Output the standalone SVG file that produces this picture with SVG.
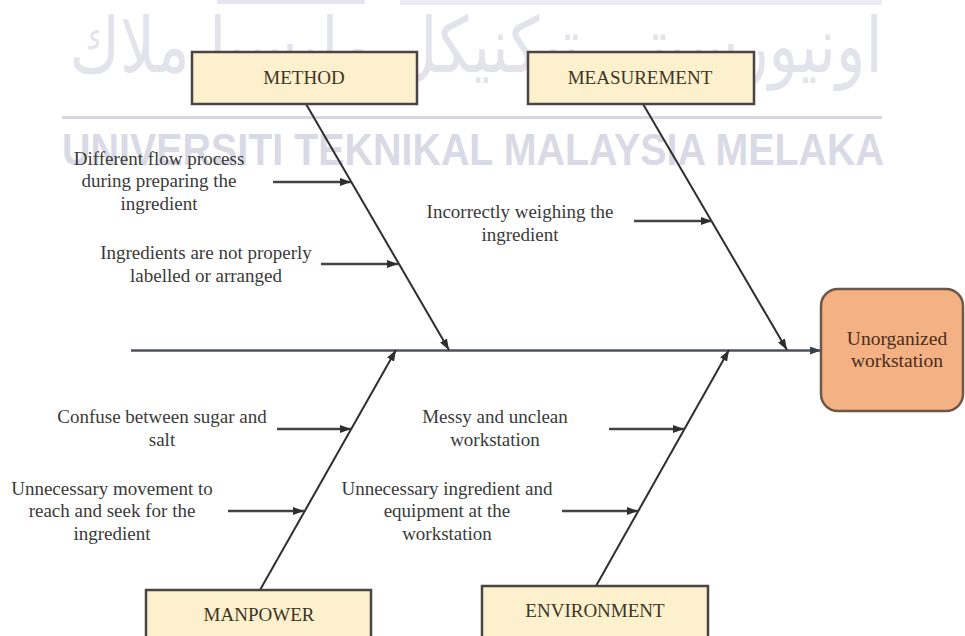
<svg xmlns="http://www.w3.org/2000/svg" width="965" height="636" viewBox="0 0 965 636">
  <defs>
    <marker id="head" markerUnits="userSpaceOnUse" markerWidth="11" markerHeight="8" refX="11" refY="4" orient="auto">
      <path d="M0,0 L11,4 L0,8 z" fill="#2e2e2e"/>
    </marker>
    <marker id="headMain" markerUnits="userSpaceOnUse" markerWidth="11" markerHeight="8" refX="11" refY="4" orient="auto">
      <path d="M0,0 L11,4 L0,8 z" fill="#34404c"/>
    </marker>
    <style>
      .cat rect { fill: #fdf0cd; stroke: #4a4444; stroke-width: 2.5; }
      .cat text { font-family: "Liberation Serif", "Times New Roman", serif; font-size: 19px; fill: #3d3526; text-anchor: middle; }
      .cause { font-family: "Liberation Serif", "Times New Roman", serif; font-size: 19px; fill: #3a3a3a; text-anchor: middle; }
      .bone { stroke: #2e2e2e; stroke-width: 2; fill: none; marker-end: url(#head); }
      .sub { stroke: #444; stroke-width: 2.5; fill: none; marker-end: url(#head); }
    </style>
  </defs>

  <rect width="965" height="636" fill="#ffffff"/>

  <!-- letterhead watermark -->
  <g id="watermark">
    <rect x="217" y="0" width="148" height="4" fill="#e6e6ee"/>
    <rect x="400" y="0" width="482" height="5" fill="#ececf1"/>
    <rect x="62" y="116" width="820" height="3" fill="#d6d7e0"/>
    <text transform="translate(476,72) scale(0.96,1.2)" font-family="DejaVu Sans, sans-serif" font-size="64" text-anchor="middle" direction="rtl" fill="#e2e3eb">اونيورسيتي تيكنيكل مليسيا ملاك</text>
    <text x="62" y="165" font-family="Liberation Sans, Arial, sans-serif" font-weight="bold" font-size="44" fill="#d9dae5" textLength="822" lengthAdjust="spacingAndGlyphs">UNIVERSITI TEKNIKAL MALAYSIA MELAKA</text>
  </g>

  <!-- connectors: spine, category bones and cause arrows -->
  <g id="connectors">
    <line x1="131" y1="350.5" x2="821" y2="350.5" stroke="#4e5258" stroke-width="2.5" marker-end="url(#headMain)"/>
    <line class="bone" x1="306" y1="104" x2="449" y2="350"/>
    <line class="bone" x1="643" y1="104" x2="787" y2="350"/>
    <line class="bone" x1="260" y1="590" x2="396" y2="350"/>
    <line class="bone" x1="596" y1="586" x2="729" y2="350"/>

    <line class="sub" x1="273" y1="182" x2="351" y2="182"/>
    <line class="sub" x1="321" y1="264" x2="398" y2="264"/>
    <line class="sub" x1="634" y1="221" x2="712" y2="221"/>
    <line class="sub" x1="277" y1="429" x2="351" y2="429"/>
    <line class="sub" x1="228" y1="511" x2="304" y2="511"/>
    <line class="sub" x1="609" y1="429" x2="684" y2="429"/>
    <line class="sub" x1="562" y1="511" x2="638" y2="511"/>
  </g>

  <!-- category boxes -->
  <g id="method" class="cat">
    <rect x="192" y="52" width="225" height="52"/>
    <text x="304" y="84">METHOD</text>
  </g>
  <g id="measurement" class="cat">
    <rect x="528" y="52" width="226" height="52"/>
    <text x="640" y="84">MEASUREMENT</text>
  </g>
  <g id="manpower" class="cat">
    <rect x="146" y="590" width="225" height="60"/>
    <text x="259" y="621">MANPOWER</text>
  </g>
  <g id="environment" class="cat">
    <rect x="482" y="586" width="226" height="60"/>
    <text x="595" y="617">ENVIRONMENT</text>
  </g>

  <!-- effect -->
  <g id="effect">
    <rect x="821" y="289" width="142" height="122" rx="17" ry="17" fill="#f4b183" stroke="#6e5648" stroke-width="2.5"/>
    <text x="897" y="345" font-family="Liberation Serif, Times New Roman, serif" font-size="19.5" fill="#4a2c1c" text-anchor="middle">Unorganized</text>
    <text x="897" y="367" font-family="Liberation Serif, Times New Roman, serif" font-size="19.5" fill="#4a2c1c" text-anchor="middle">workstation</text>
  </g>

  <!-- causes -->
  <g id="cause-flow">
    <text class="cause" x="159" y="165">Different flow process</text>
    <text class="cause" x="159" y="187">during preparing the</text>
    <text class="cause" x="159" y="210">ingredient</text>
  </g>
  <g id="cause-label">
    <text class="cause" x="206" y="259">Ingredients  are not properly</text>
    <text class="cause" x="206" y="282">labelled or arranged</text>
  </g>
  <g id="cause-weigh">
    <text class="cause" x="520" y="218">Incorrectly weighing  the</text>
    <text class="cause" x="520" y="241">ingredient</text>
  </g>
  <g id="cause-confuse">
    <text class="cause" x="162" y="423">Confuse between sugar and</text>
    <text class="cause" x="162" y="446">salt</text>
  </g>
  <g id="cause-movement">
    <text class="cause" x="112" y="495">Unnecessary movement to</text>
    <text class="cause" x="112" y="517">reach and seek for the</text>
    <text class="cause" x="112" y="540">ingredient</text>
  </g>
  <g id="cause-messy">
    <text class="cause" x="495" y="423">Messy and unclean</text>
    <text class="cause" x="495" y="446">workstation</text>
  </g>
  <g id="cause-equipment">
    <text class="cause" x="447" y="495">Unnecessary ingredient  and</text>
    <text class="cause" x="447" y="517">equipment at the</text>
    <text class="cause" x="447" y="540">workstation</text>
  </g>
</svg>
